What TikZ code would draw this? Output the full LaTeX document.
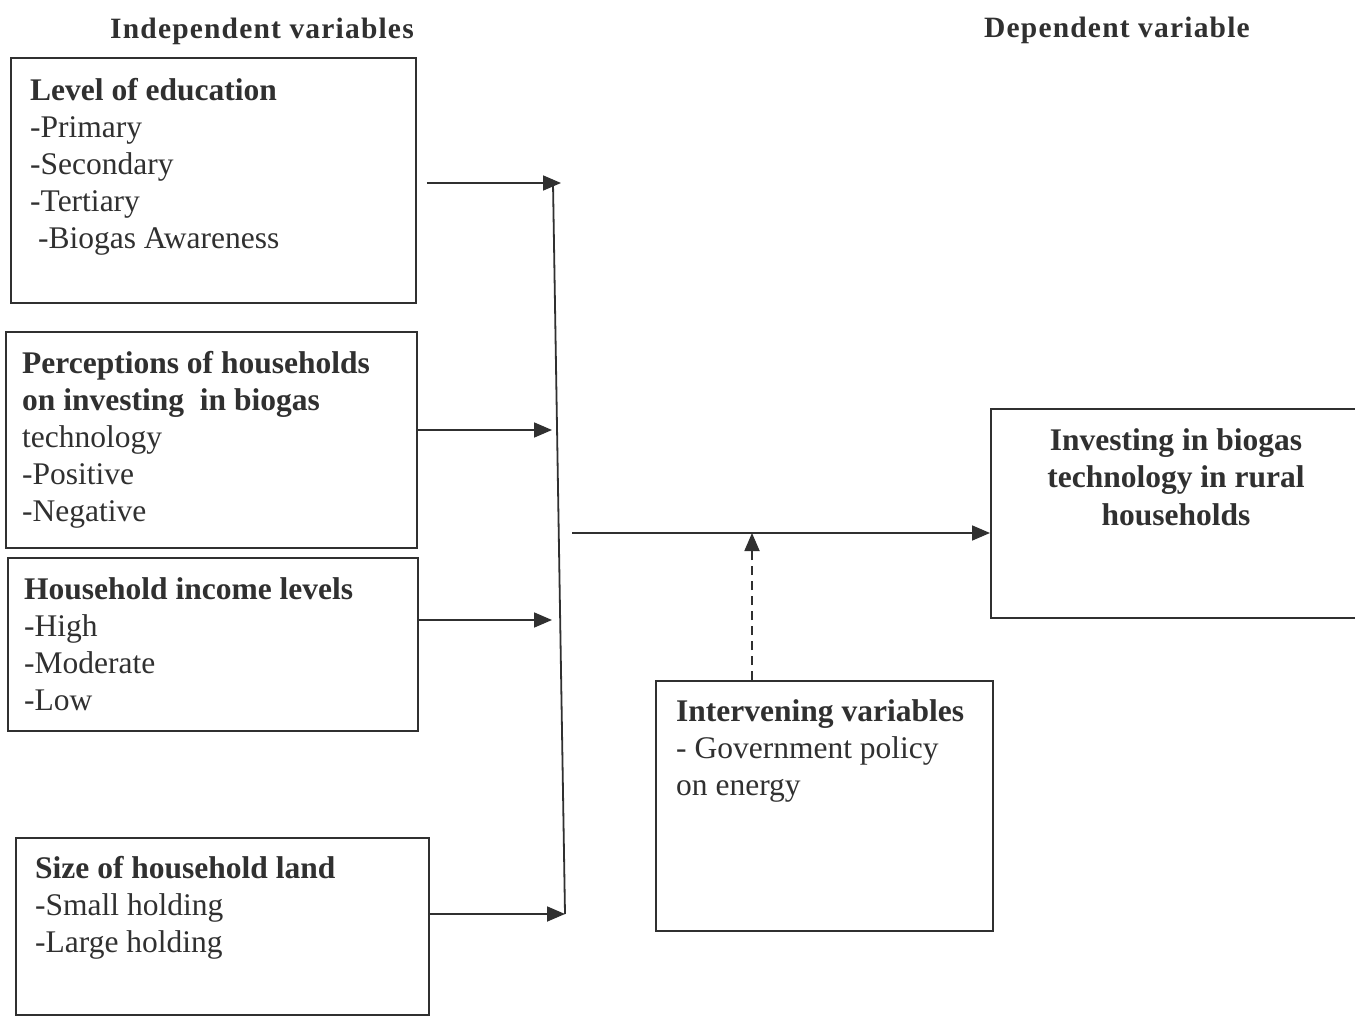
\documentclass[tikz,border=0pt]{standalone}
\usepackage{fontspec}
\setmainfont{Liberation Serif}
\newfontfamily\titlefont[LetterSpace=4]{Liberation Serif}
\usetikzlibrary{arrows.meta}
\definecolor{ink}{HTML}{303030}
\begin{document}
\begin{tikzpicture}[x=1pt,y=1pt,
  box/.style={draw=ink,line width=1.8pt,anchor=north west,inner sep=0pt},
  txt/.style={anchor=north west,align=left,inner sep=0pt,text=ink,
    font=\fontsize{31.5}{37}\selectfont},
  ctxt/.style={anchor=north,align=center,inner sep=0pt,text=ink,
    font=\fontsize{31.5}{37.5}\selectfont\bfseries},
  ttl/.style={anchor=center,inner sep=0pt,text=ink,
    font=\titlefont\fontsize{29.5}{34}\selectfont\bfseries},
  conn/.style={draw=ink,line width=1.8pt},
  arr/.style={conn,-{Triangle[length=18pt,width=15pt]}},
  darr/.style={arr,dash pattern=on 9pt off 6pt},
]
\useasboundingbox[fill=white] (0,0) rectangle (1355,-1016);

% titles
\node[ttl] (t1) at (262,-31) {Independent variables};
\node[ttl] (t2) at (1117,-30) {Dependent variable};

% boxes
\node[box,minimum width=405pt,minimum height=245pt] (b1) at (10,-57) {};
\node[box,minimum width=411pt,minimum height=216pt] (b2) at (5,-331) {};
\node[box,minimum width=410pt,minimum height=173pt] (b3) at (7,-557) {};
\node[box,minimum width=413pt,minimum height=177pt] (b4) at (15,-837) {};
\node[box,minimum width=370pt,minimum height=209pt] (b5) at (990,-408) {};
\node[box,minimum width=337pt,minimum height=250pt] (b6) at (655,-680) {};

% texts
\node[txt] (b1t) at (30,-78) {\textbf{Level of education}\\-Primary\\-Secondary\\-Tertiary\\\ -Biogas Awareness};
\node[txt] (b2t) at (22,-351) {\textbf{Perceptions of households}\\\textbf{on investing\ \ in biogas}\\technology\\-Positive\\-Negative};
\node[txt] (b3t) at (24,-577) {\textbf{Household income levels}\\-High\\-Moderate\\-Low};
\node[txt] (b4t) at (35,-856) {\textbf{Size of household land}\\-Small holding\\-Large holding};
\node[ctxt] (b5t) at (1176,-428) {Investing in biogas\\technology in rural\\households};
\node[txt] (b6t) at (676,-699) {\textbf{Intervening variables}\\- Government policy\\on energy};

% junction coordinates
\coordinate (j1) at (561,-183);
\coordinate (j2) at (552,-430);
\coordinate (j3) at (552,-620);
\coordinate (j4) at (565,-914);
\coordinate (vt) at (553,-183);
\coordinate (m1) at (572,-533);
\coordinate (dtop) at (752,-533);

% connectors
\draw[arr] ([xshift=10pt]b1.east |- j1) -- (j1);
\draw[arr] (b2.east |- j2) -- (j2);
\draw[arr] (b3.east |- j3) -- (j3);
\draw[arr] (b4.east |- j4) -- (j4);
\draw[conn] (vt) -- (j4);
\draw[arr] (m1) -- (m1 -| b5.west);
\draw[darr] (dtop |- b6.north) -- (dtop);
\end{tikzpicture}
\end{document}
